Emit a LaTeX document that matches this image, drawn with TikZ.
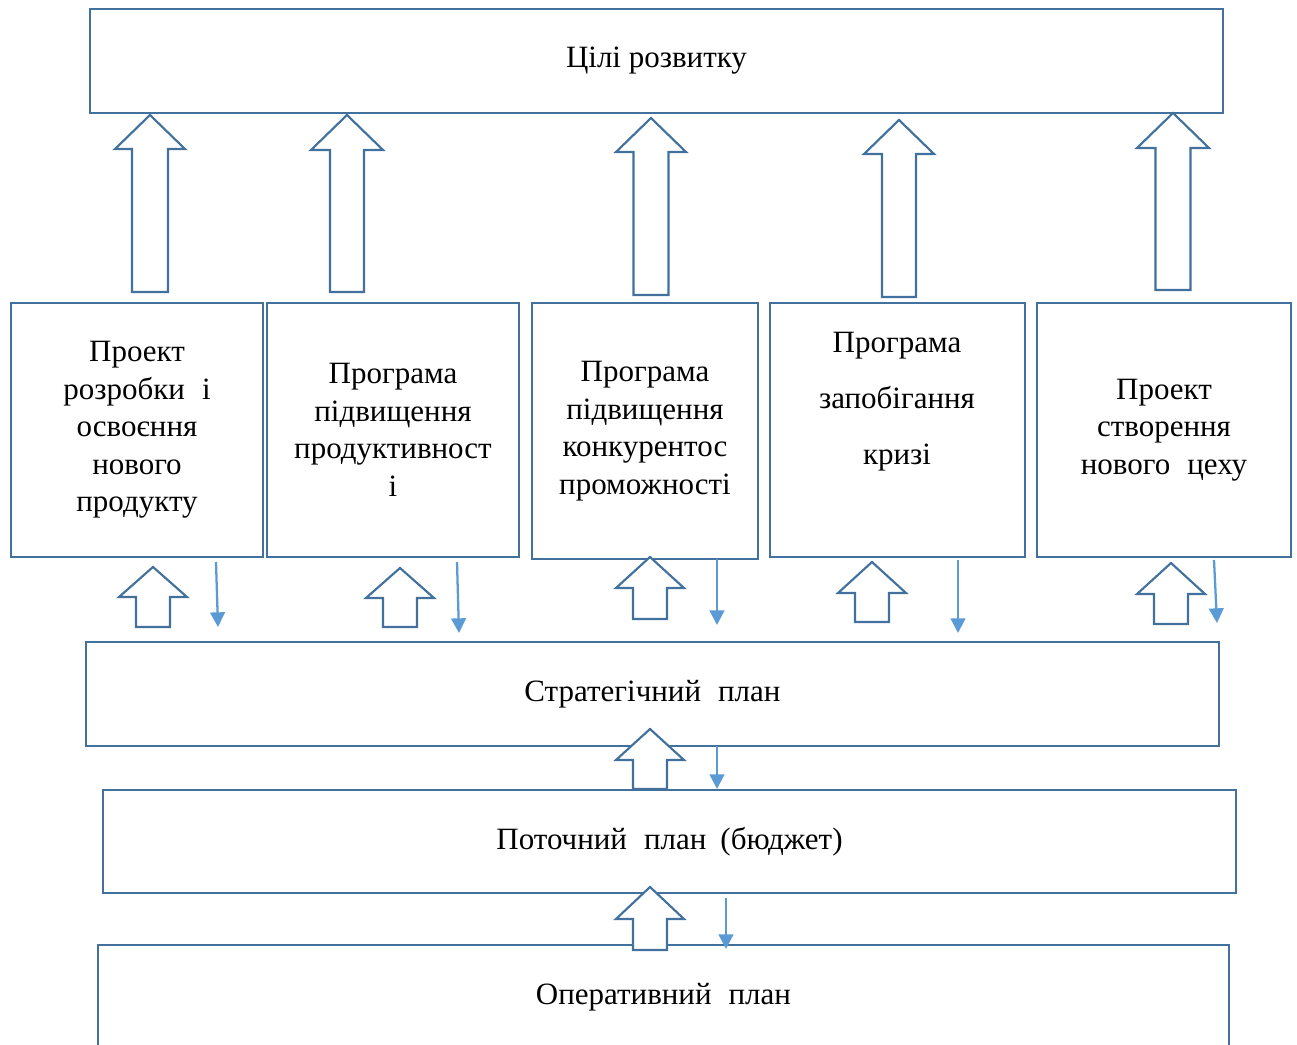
\documentclass[tikz,border=0pt]{standalone}
\usepackage{fontspec}
\setmainfont{Liberation Serif}
\usetikzlibrary{arrows.meta}
\definecolor{outl}{HTML}{41719C}
\definecolor{lite}{HTML}{5B9BD5}
\newcommand\hollowup[6]{%
  \filldraw[hollow] (#1,#2) -- (#1+#4,#3) -- (#1+#5,#3) -- (#1+#5,#6) -- (#1-#5,#6) -- (#1-#5,#3) -- (#1-#4,#3) -- cycle;}
\begin{document}
\begin{tikzpicture}[x=0.75pt,y=-0.75pt,
  box/.style={draw=outl, line width=1.8pt, fill=white, inner sep=0pt, align=center,
    font=\fontsize{23.25}{28.1}\selectfont},
  wide/.style={box, minimum height=78pt},
  cell/.style={box, minimum width=189pt, minimum height=190.5pt},
  plain/.style={inner sep=0pt, align=center, font=\fontsize{23.25}{42}\selectfont},
  hollow/.style={draw=outl, line width=1.6pt, fill=white, line join=miter},
  down/.style={draw=lite, line width=1.7pt, -{Triangle[width=11pt,length=11pt]}}]
\clip (0,0) rectangle (1297,1045);
\fill[white] (0,0) rectangle (1297,1045);
% boxes
\node[wide, minimum width=849.75pt] (goal) at (656.5,61) {\raisebox{-2pt}{Цілі розвитку}};
\node[cell] (b1) at (137,430) {Проект\\розробки\hspace{0.3em} і\\освоєння\\нового\\продукту};
\node[cell] (b2) at (393,430) {Програма\\підвищення\\продуктивност\\і};
\node[cell, minimum width=169.5pt, minimum height=192pt] (b3) at (645,431) {Програма\\підвищення\\конкурентос\\проможності};
\node[cell, minimum width=191.25pt] (b4) at (897.5,430) {};
\node[plain] (t4) at (897,402) {Програма\\запобігання\\кризі};
\node[cell, minimum width=190.5pt] (b5) at (1164,430) {Проект\\створення\\нового\hspace{0.3em} цеху};
\node[wide, minimum width=849.75pt] (strat) at (652.5,694) {\raisebox{3pt}{Стратегічний\hspace{0.3em} план}};
\node[wide, minimum width=849.75pt, minimum height=77.25pt] (cur) at (669.5,841.5) {\raisebox{3pt}{Поточний\hspace{0.3em} план\hspace{0.2em} (бюджет)}};
\node[wide, minimum width=848.25pt, minimum height=78.75pt] (oper) at (663.5,997.5) {\raisebox{2pt}{Оперативний\hspace{0.3em} план}};
% tall hollow arrows
\hollowup{150}{115}{149}{35}{18}{292}
\hollowup{347}{115}{150}{36}{17}{292}
\hollowup{651}{118}{152}{35}{17.5}{295}
\hollowup{899}{120}{154}{35}{17}{297}
\hollowup{1173}{113}{148}{36}{17.5}{290}
% small hollow arrows
\hollowup{153}{567}{597}{34}{17}{627}
\hollowup{400}{568}{598}{34}{17}{627}
\hollowup{650}{557}{588}{34}{17}{619}
\hollowup{872}{562}{593}{34}{17}{622}
\hollowup{1171}{563}{594}{34}{17}{624}
\hollowup{650}{729}{760}{34}{17}{789}
\hollowup{650}{887}{919}{34}{17}{950}
% thin down arrows
\draw[down] (216,562) -- (218,627);
\draw[down] (457,562) -- (459,633);
\draw[down] (717,559) -- (717,625);
\draw[down] (958,560) -- (958,633);
\draw[down] (1214,560) -- (1217,623);
\draw[down] (717,746) -- (717,789);
\draw[down] (726,898) -- (726,949);
\end{tikzpicture}
\end{document}
